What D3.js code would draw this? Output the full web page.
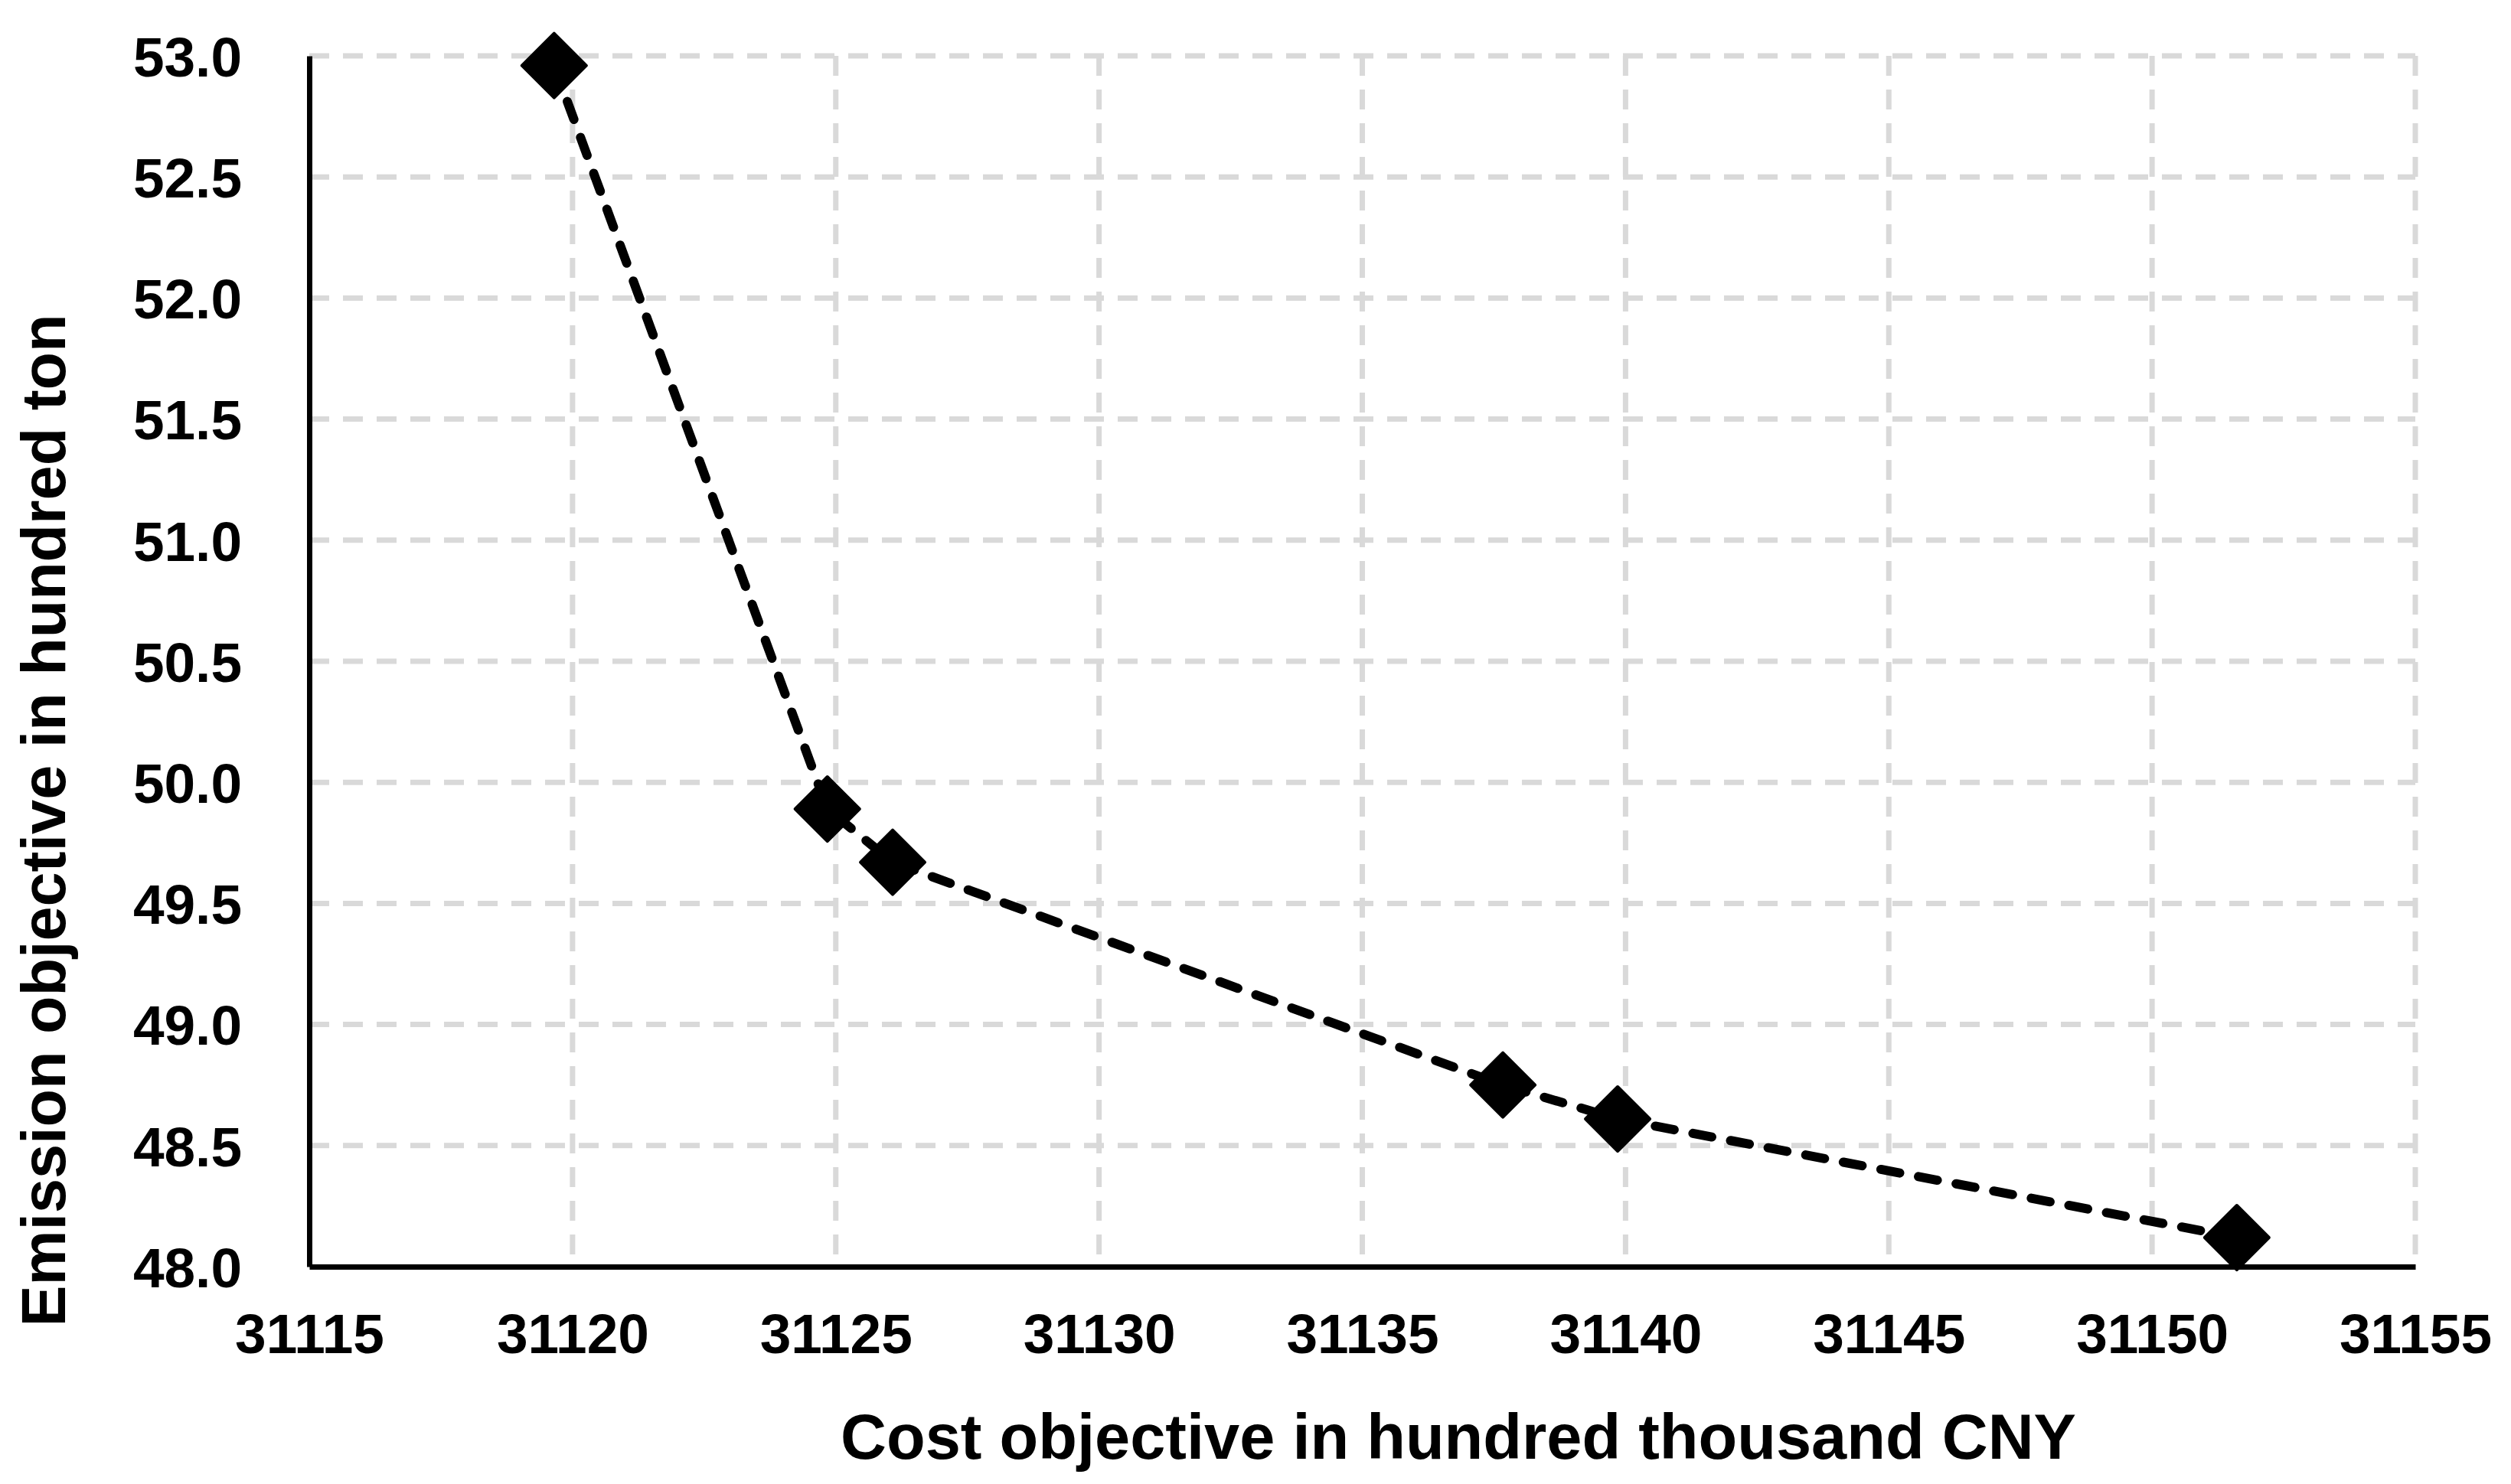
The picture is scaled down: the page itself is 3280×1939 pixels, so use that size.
<!DOCTYPE html>
<html>
<head>
<meta charset="utf-8">
<script src="https://cdn.jsdelivr.net/npm/d3@7"></script>
<style>
  html, body { margin: 0; padding: 0; background: #fff; }
  svg text { font-family: "Liberation Sans", Arial, sans-serif; font-weight: bold; fill: #000; }
</style>
</head>
<body>
<svg id="chart" width="3280" height="1939"></svg>
<script>
// Pareto front: cost vs emission
var costValues = [31119.65, 31124.84, 31126.08, 31137.67, 31139.85, 31151.61];
var emissionValues = [52.96, 49.89, 49.67, 48.75, 48.61, 48.12];
var xTicks = [31115, 31120, 31125, 31130, 31135, 31140, 31145, 31150, 31155];
var yTicks = [48.0, 48.5, 49.0, 49.5, 50.0, 50.5, 51.0, 51.5, 52.0, 52.5, 53.0];
var xTitle = 'Cost objective in hundred thousand CNY';
var yTitle = 'Emission objective in hundred ton';

var margin = {left: 404, right: 3155, top: 73, bottom: 1655};

var svg = d3.select('#chart');

var x = d3.scaleLinear()
  .domain([31115, 31155])
  .range([margin.left, margin.right]);
var y = d3.scaleLinear()
  .domain([48, 53])
  .range([margin.bottom, margin.top]);

var points = costValues.map(function(c, i) { return [c, emissionValues[i]]; });

// grid lines
var grid = svg.append('g').attr('class', 'grid');
grid.selectAll('line.h')
  .data(yTicks.slice(1))
  .enter().append('line')
  .attr('class', 'h')
  .attr('x1', margin.left)
  .attr('x2', margin.right)
  .attr('y1', function(d) { return y(d); })
  .attr('y2', function(d) { return y(d); })
  .style('stroke', '#d9d9d9')
  .style('stroke-width', 7)
  .style('stroke-dasharray', '26,18');
grid.selectAll('line.v')
  .data(xTicks.slice(1))
  .enter().append('line')
  .attr('class', 'v')
  .attr('x1', function(d) { return x(d); })
  .attr('x2', function(d) { return x(d); })
  .attr('y1', margin.top)
  .attr('y2', margin.bottom)
  .style('stroke', '#d9d9d9')
  .style('stroke-width', 7)
  .style('stroke-dasharray', '26,18');

// axes
var xAxis = svg.append('g')
  .attr('transform', 'translate(0,' + margin.bottom + ')')
  .call(d3.axisBottom(x).tickValues(xTicks).tickSize(0).tickSizeOuter(0).tickFormat(d3.format('d')));
xAxis.select('.domain').style('stroke', '#000').style('stroke-width', 7);
xAxis.selectAll('.tick text')
  .attr('y', 113)
  .attr('dy', 0)
  .style('font-size', '73px');

var yAxis = svg.append('g')
  .attr('transform', 'translate(' + margin.left + ',0)')
  .call(d3.axisLeft(y).tickValues(yTicks).tickSize(0).tickSizeOuter(0).tickFormat(d3.format('.1f')));
yAxis.select('.domain').style('stroke', '#000').style('stroke-width', 7);
yAxis.selectAll('.tick text')
  .attr('x', -88)
  .attr('dy', '0.36em')
  .style('font-size', '73px');

// titles
svg.append('text')
  .attr('x', 1905)
  .attr('y', 1906)
  .attr('text-anchor', 'middle')
  .style('font-size', '83px')
  .text(xTitle);
svg.append('text')
  .attr('transform', 'translate(85,1072) rotate(-90)')
  .attr('text-anchor', 'middle')
  .style('font-size', '81px')
  .text(yTitle);

// dashed front line
var line = d3.line()
  .x(function(d) { return x(d[0]); })
  .y(function(d) { return y(d[1]); });
svg.append('path')
  .datum(points)
  .attr('d', line)
  .style('fill', 'none')
  .style('stroke', '#000')
  .style('stroke-width', 12)
  .style('stroke-linecap', 'round')
  .style('stroke-dasharray', '25,25');

// diamond markers
var diamond = d3.symbol().type(d3.symbolSquare).size(3528);
svg.selectAll('path.marker')
  .data(points)
  .enter().append('path')
  .attr('class', 'marker')
  .attr('d', diamond)
  .attr('transform', function(d) {
    return 'translate(' + x(d[0]) + ',' + y(d[1]) + ') rotate(45)';
  })
  .style('fill', '#000')
  .style('stroke', '#000')
  .style('stroke-width', 4)
  .style('stroke-linejoin', 'round');
</script>
</body>
</html>
